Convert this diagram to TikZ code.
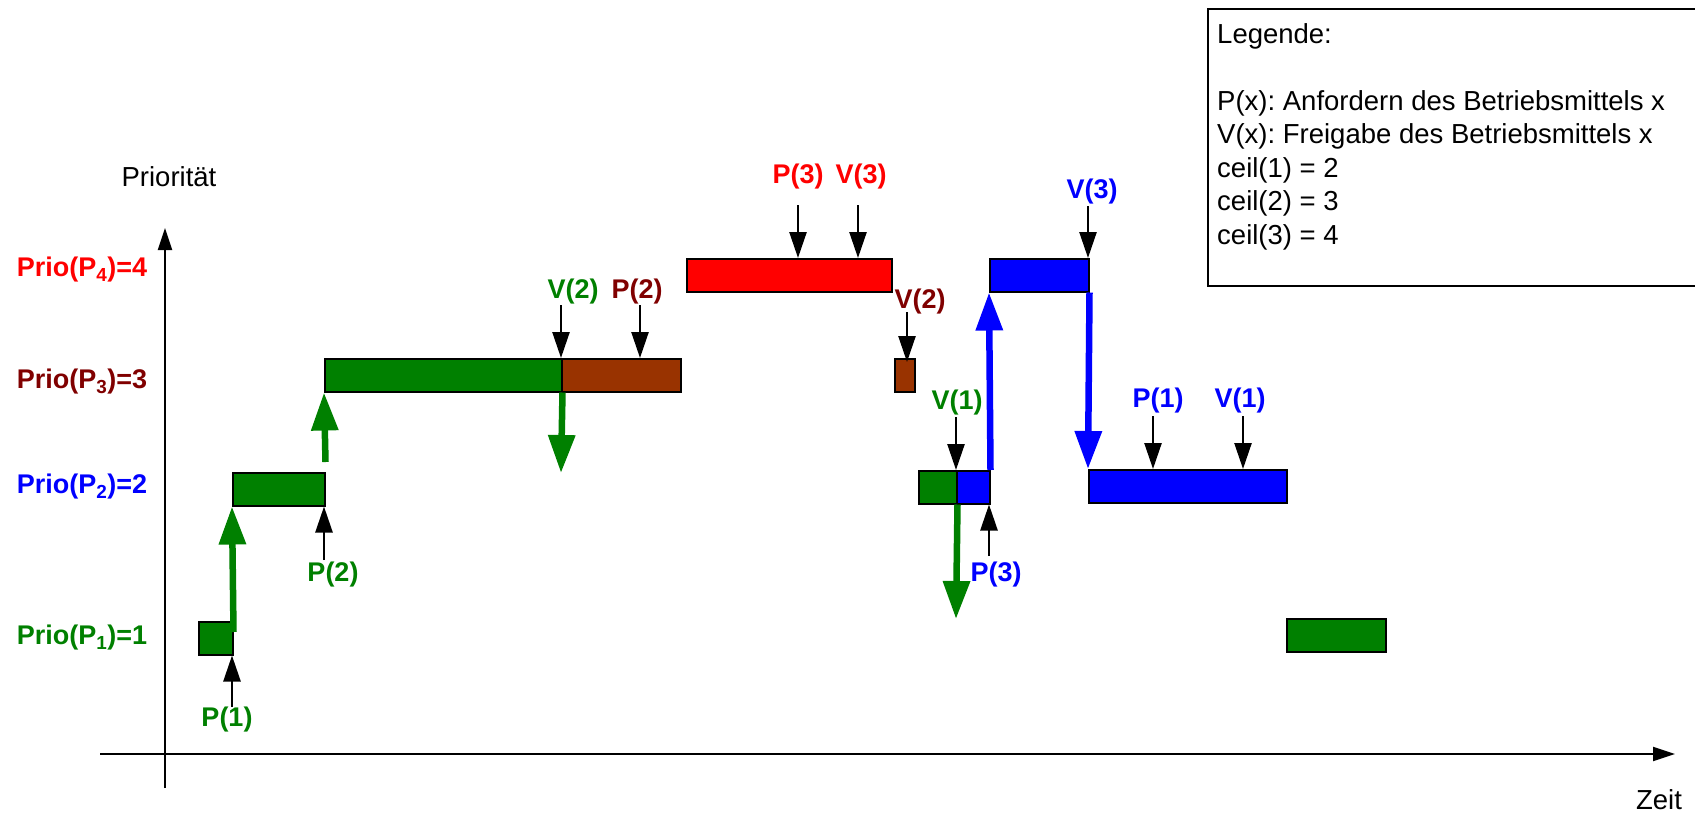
\documentclass[tikz,border=0pt]{standalone}
\usepackage{fontspec}
\setmainfont{Liberation Sans}
\usepackage{tikz}
\usetikzlibrary{arrows.meta}
\definecolor{pgreen}{RGB}{0,128,0}
\definecolor{pred}{RGB}{255,0,0}
\definecolor{pblue}{RGB}{0,0,255}
\definecolor{pbrown}{RGB}{153,51,0}
\definecolor{pmaroon}{RGB}{128,0,0}
\frenchspacing
\tikzset{>=latex,
  prbox/.style={draw=black,line width=1.5pt,anchor=north west,inner sep=0pt,minimum height=33pt},
  evt/.style={-{Triangle[length=26pt,width=17pt]},line width=2.5pt},
  hop/.style={-{Triangle[length=38pt,width=26pt]},line width=6.5pt},
  axis/.style={-{Triangle[length=22pt,width=14pt]},line width=2pt},
  lbl/.style={font=\fontsize{27}{30}\selectfont\bfseries},
  txt/.style={font=\fontsize{27.5}{33.5}\selectfont}}

\begin{document}
\begin{tikzpicture}[x=1pt,y=-1pt]
\useasboundingbox (0,0) rectangle (1695,814);

% Axes
\coordinate (xs) at (100,754);
\coordinate (xe) at (1675,754);
\coordinate (ys) at (165,788);
\coordinate (ye) at (165,228);
\draw[axis] (xs) -- (xe);
\draw[axis] (ys) -- (ye);
\node[txt] (prio) at (169,177) {Priorität};
\node[txt,inner sep=0pt] (zeit) at (1659,800) {Zeit};

% Priority levels
\node[lbl,text=pred] (l4) at (82,270) {Prio(P\textsubscript{4})=4};
\node[lbl,text=pmaroon] (l3) at (82,382) {Prio(P\textsubscript{3})=3};
\node[lbl,text=pblue] (l2) at (82,487) {Prio(P\textsubscript{2})=2};
\node[lbl,text=pgreen] (l1) at (82,638) {Prio(P\textsubscript{1})=1};

% Running processes
\node[prbox,fill=pgreen,minimum width=34pt] (g1) at (198,621) {};
\node[prbox,fill=pgreen,minimum width=92pt] (g2) at (232,472) {};
\node[prbox,fill=pgreen,minimum width=237pt] (g3) at (324,358) {};
\node[prbox,fill=pbrown,minimum width=119pt] (br1) at (561,358) {};
\node[prbox,fill=pred,minimum width=205pt] (rd) at (686,258) {};
\node[prbox,fill=pbrown,minimum width=20pt] (br2) at (894,358) {};
\node[prbox,fill=pgreen,minimum width=38pt] (g4) at (918,470) {};
\node[prbox,fill=pblue,minimum width=33pt] (bl1) at (956,470) {};
\node[prbox,fill=pblue,minimum width=99pt] (bl2) at (989,258) {};
\node[prbox,fill=pblue,minimum width=198pt] (bl3) at (1088,469) {};
\node[prbox,fill=pgreen,minimum width=99pt] (g5) at (1286,618) {};

% Priority changes
\coordinate (d1) at (561,473);
\coordinate (d2) at (956,619);
\draw[hop,pgreen] ([yshift=-11pt]g1.north east) -- (g2.south west);
\draw[hop,pgreen] ([yshift=10pt]g2.north east) -- (g3.south west);
\draw[hop,pgreen] (g3.south east) -- (d1);
\draw[hop,pgreen] (g4.south east) -- (d2);
\draw[hop,pblue] (bl1.north east) -- (bl2.south west);
\draw[hop,pblue] (bl2.south east) -- (bl3.north west);

% Requests and releases
\coordinate (eP1) at (232,707);
\coordinate (eP2) at (324,560);
\coordinate (eV2) at (561,305);
\coordinate (eP2b) at (640,305);
\coordinate (eP3) at (798,205);
\coordinate (eV3) at (858,205);
\coordinate (eV2b) at (907,312);
\coordinate (eV1) at (956,417);
\coordinate (eP3b) at (989,556);
\coordinate (eV3b) at (1088,206);
\coordinate (eP1b) at (1153,416);
\coordinate (eV1b) at (1243,416);
\draw[evt] (eP1) -- (eP1 |- g1.south);
\draw[evt] (eP2) -- (eP2 |- g2.south);
\draw[evt] (eV2) -- (eV2 |- g3.north);
\draw[evt] (eP2b) -- (eP2b |- br1.north);
\draw[evt] (eP3) -- (eP3 |- rd.north);
\draw[evt] (eV3) -- (eV3 |- rd.north);
\draw[evt] (eV2b) -- ([yshift=-4pt]eV2b |- br2.north);
\draw[evt] (eV1) -- (eV1 |- g4.north);
\draw[evt] (eP3b) -- (eP3b |- bl1.south);
\draw[evt] (eV3b) -- (eV3b |- bl2.north);
\draw[evt] (eP1b) -- (eP1b |- bl3.north);
\draw[evt] (eV1b) -- (eV1b |- bl3.north);

\node[lbl,text=pgreen] (tP1) at (227,720) {P(1)};
\node[lbl,text=pgreen] (tP2) at (333,575) {P(2)};
\node[lbl,text=pgreen] (tV2) at (573,292) {V(2)};
\node[lbl,text=pmaroon] (tP2b) at (637,292) {P(2)};
\node[lbl,text=pred] (tP3) at (798,177) {P(3)};
\node[lbl,text=pred] (tV3) at (861,177) {V(3)};
\node[lbl,text=pmaroon] (tV2b) at (920,302) {V(2)};
\node[lbl,text=pgreen] (tV1) at (957,403) {V(1)};
\node[lbl,text=pblue] (tP3b) at (996,575) {P(3)};
\node[lbl,text=pblue] (tV3b) at (1092,192) {V(3)};
\node[lbl,text=pblue] (tP1b) at (1158,401) {P(1)};
\node[lbl,text=pblue] (tV1b) at (1240,401) {V(1)};

% Legend
\draw[line width=1.5pt] (1710,9) -| (1208,286) -- (1710,286);
\node[txt,anchor=north west,inner sep=0pt,align=left] (leg) at (1217,23)
  {Legende:\\[33.5pt]
   P(x): Anfordern des Betriebsmittels x\\
   V(x): Freigabe des Betriebsmittels x\\
   ceil(1) = 2\\
   ceil(2) = 3\\
   ceil(3) = 4};

\end{tikzpicture}
\end{document}
